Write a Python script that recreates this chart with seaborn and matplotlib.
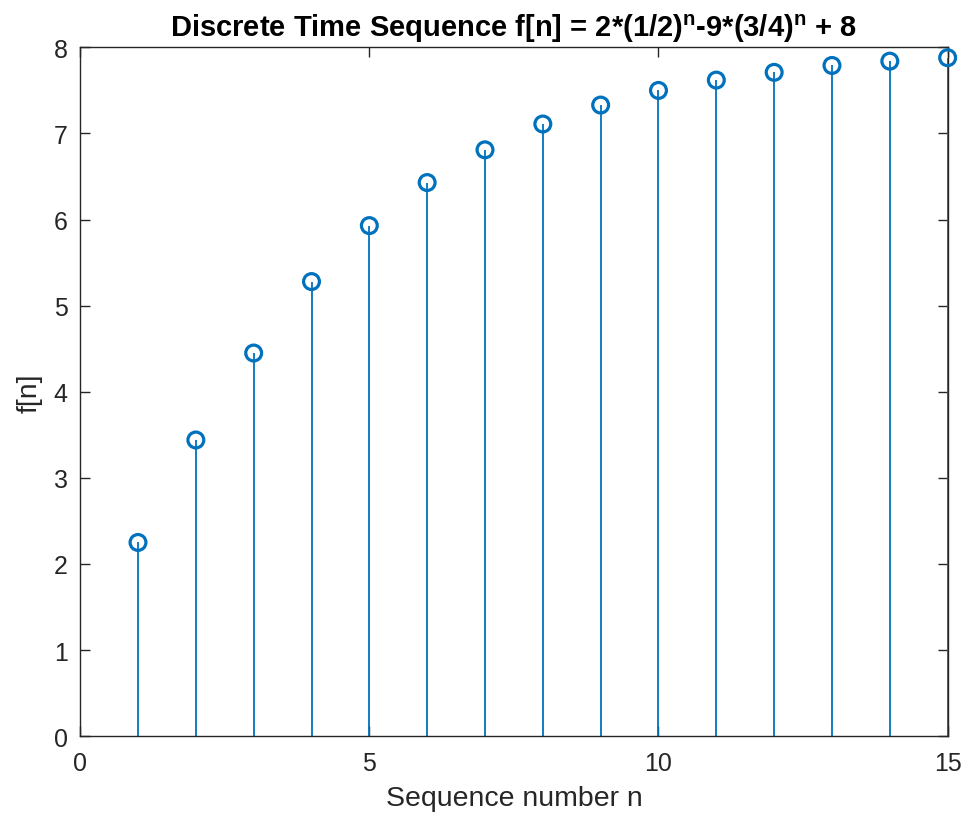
import matplotlib
matplotlib.use("Agg")
import matplotlib.pyplot as plt
import seaborn as sns
import pandas as pd

n_values = [1, 2, 3, 4, 5, 6, 7, 8, 9, 10, 11, 12, 13, 14, 15]
f_values = [2.25, 3.44, 4.45, 5.28, 5.93, 6.43, 6.81, 7.11, 7.33, 7.50,
            7.62, 7.71, 7.79, 7.84, 7.88]
x_ticks = [0, 5, 10, 15]
y_ticks = [0, 1, 2, 3, 4, 5, 6, 7, 8]

df = pd.DataFrame({"n": n_values, "f": f_values})

sns.set_style("ticks")
plt.rcParams["font.family"] = ["Liberation Sans", "DejaVu Sans"]

stem_color = "#0072BD"
axis_color = "#262626"

fig = plt.figure(figsize=(9.66, 8.2), dpi=100)
ax = fig.add_axes([0.083, 0.101, 0.898, 0.840])

# stems first, then the open circles on top
ax.vlines(df["n"], 0, df["f"], color=stem_color, linewidth=1.3, zorder=2)
sns.scatterplot(data=df, x="n", y="f", ax=ax, s=130, marker="o",
                facecolor="none", edgecolor=stem_color, linewidth=2.3,
                zorder=3, legend=False, clip_on=False)

ax.set_xlim(0, 15)
ax.set_ylim(0, 8)
ax.set_xticks(x_ticks)
ax.set_yticks(y_ticks)

ax.set_title("Discrete Time Sequence f[n] = 2*(1/2)$^{\\mathregular{n}}$-9*(3/4)$^{\\mathregular{n}}$ + 8",
             fontsize=21, fontweight="bold", color="black", pad=8)
ax.set_xlabel("Sequence number n", fontsize=20.5, color=axis_color, labelpad=7)
ax.set_ylabel("f[n]", fontsize=20.5, color=axis_color, labelpad=8)

ax.tick_params(direction="in", length=7, width=1, colors=axis_color,
               labelsize=18, top=True, right=True)
ax.tick_params(axis="x", pad=11)
ax.tick_params(axis="y", pad=9)
for side in ["left", "right", "top", "bottom"]:
    ax.spines[side].set_visible(True)
    ax.spines[side].set_color(axis_color)
    ax.spines[side].set_linewidth(1.0)

fig.savefig("out.png", dpi=100)
